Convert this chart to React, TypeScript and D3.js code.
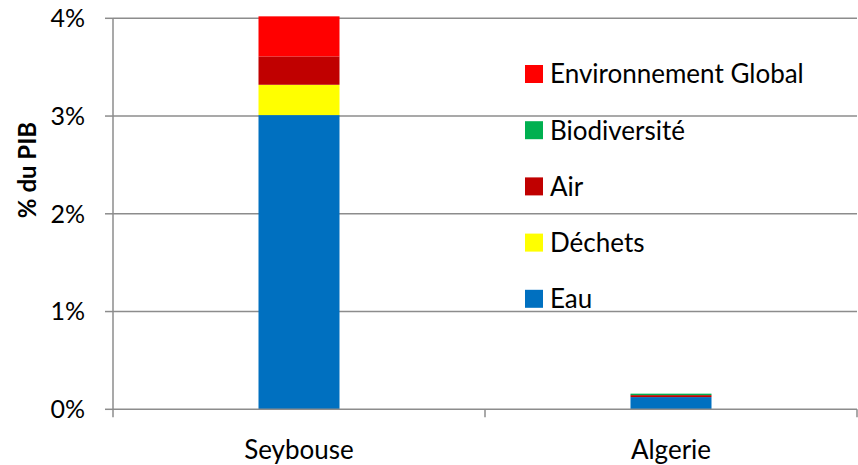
import React from "react";
import * as d3 from "d3";

const categories = ["Seybouse", "Algerie"];
const seriesNames = ["Eau", "Déchets", "Air", "Biodiversité", "Environnement Global"];
const eau = [3.01, 0.125];
const dechets = [0.31, 0];
const air = [0.29, 0.02];
const biodiversite = [0, 0.015];
const envGlobal = [0.41, 0];
const yTicks = [0, 1, 2, 3, 4];
const colors = ["#0070C0", "#FFFF00", "#C00000", "#00B050", "#FF0000"];

const W = 858;
const H = 465;
const FONT = "Lato, 'Open Sans', sans-serif";

export default function App() {
  const left = 113, right = 857, top = 18.3, bottom = 409.3;
  const x = d3.scaleBand<string>().domain(categories).range([left, right]).paddingInner(0).paddingOuter(0);
  const y = d3.scaleLinear().domain([0, 4]).range([bottom, top]);
  const barW = 81;

  const rows = categories.map((c, i) => ({
    cat: c,
    Eau: eau[i],
    "Déchets": dechets[i],
    Air: air[i],
    "Biodiversité": biodiversite[i],
    "Environnement Global": envGlobal[i],
  }));
  const stack = d3.stack<any>().keys(seriesNames)(rows);

  const grid = "#8c8c8c";
  const legendOrder = [4, 3, 2, 1, 0];

  return (
    <svg width={W} height={H} style={{ position: "absolute", left: 0, top: 0, background: "#fff" }}>
      {yTicks.map((t) => (
        <g key={t}>
          {t > 0 && <line x1={left} x2={right} y1={y(t)} y2={y(t)} stroke={grid} strokeWidth={1.5} />}
          <line x1={left - 8} x2={left} y1={y(t)} y2={y(t)} stroke={grid} strokeWidth={1.5} />
          <text x={85} y={y(t)} dy="0.35em" textAnchor="end" fontFamily={FONT} fontSize={25} fill="#000">
            {t}%
          </text>
        </g>
      ))}
      {stack.map((s, si) => (
        <g key={s.key} fill={colors[si]}>
          {s.map((d, i) => {
            const h = y(d[0]) - y(d[1]);
            if (h <= 0) return null;
            return (
              <rect
                key={i}
                x={(x(categories[i]) as number) + x.bandwidth() / 2 - barW / 2}
                y={y(d[1])}
                width={barW}
                height={h}
              />
            );
          })}
        </g>
      ))}
      <line x1={left} x2={left} y1={top} y2={bottom} stroke={grid} strokeWidth={1.5} />
      <line x1={left} x2={right} y1={bottom} y2={bottom} stroke={grid} strokeWidth={1.5} />
      {[left, left + x.bandwidth(), right].map((xx, i) => (
        <line key={i} x1={xx} x2={xx} y1={bottom} y2={bottom + 8} stroke={grid} strokeWidth={1.5} />
      ))}
      {categories.map((c) => (
        <text
          key={c}
          x={(x(c) as number) + x.bandwidth() / 2}
          y={459}
          textAnchor="middle"
          fontFamily={FONT}
          fontSize={26}
          fill="#000"
        >
          {c}
        </text>
      ))}
      <text
        transform={`translate(36,170) rotate(-90)`}
        textAnchor="middle"
        fontFamily={FONT}
        fontSize={24}
        fontWeight="bold"
        fill="#000"
      >
        % du PIB
      </text>
      {legendOrder.map((si, k) => {
        const cy = 74 + k * 56.2;
        return (
          <g key={si}>
            <rect x={525} y={cy - 9} width={18} height={18} fill={colors[si]} />
            <text x={550} y={cy} dy="0.36em" fontFamily={FONT} fontSize={26} fill="#000">
              {seriesNames[si]}
            </text>
          </g>
        );
      })}
    </svg>
  );
}
